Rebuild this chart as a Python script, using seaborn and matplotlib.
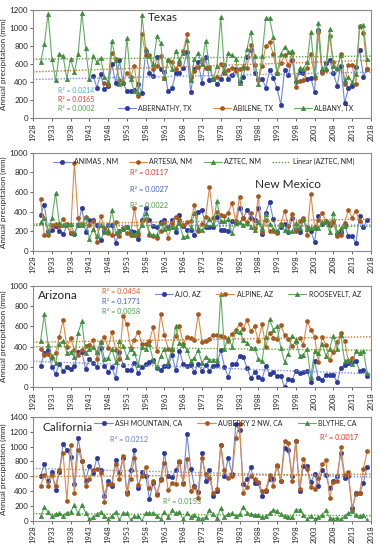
import numpy as np
import matplotlib
matplotlib.use("Agg")
import matplotlib.pyplot as plt
import seaborn as sns

# Annual precipitation (mm)
# Texas
abernathy_tx_from = 1944
abernathy_tx = [470, 340, 490, 320, 360, 600,
                390, 640, 390, 300, 300, 310, 380, 280, 750, 500,
                470, 680, 540, 510, 300, 330, 500, 500, 560, 730,
                290, 540, 620, 390, 680, 420, 440, 380, 440, 590,
                440, 480, 540, 400, 460, 680, 760, 500, 430, 440,
                340, 530, 450, 330, 150, 530, 480, 650, 400, 510,
                500, 440, 450, 290, 980, 520, 610, 650, 500, 360,
                580, 170, 330, 360, 570, 760, 460, 550]
abilene_tx_from = 1947
abilene_tx = [390, 370, 720,
              660, 420, 390, 500, 460, 580, 250, 930, 700, 700,
              540, 580, 690, 450, 650, 620, 550, 600, 740, 930,
              460, 520, 570, 640, 560, 570, 440, 460, 600, 500,
              530, 560, 520, 540, 560, 560, 810, 590, 420, 580,
              800, 840, 710, 500, 610, 700, 590, 720, 350, 410,
              420, 560, 710, 450, 950, 500, 530, 910, 620, 540,
              710, 380, 590, 590, 380, 1020, 940, 540]
albany_tx_from = 1930
albany_tx = [620, 820, 1160, 660, 420, 710, 690, 440, 660, 510,
             710, 1170, 780, 430, 690, 620, 670, 460, 400, 860,
             650, 380, 400, 890, 430, 300, 280, 1140, 770, 690,
             600, 910, 830, 450, 640, 550, 750, 650, 720, 870,
             420, 660, 720, 600, 860, 560, 430, 580, 1120, 520,
             720, 700, 660, 390, 580, 770, 960, 690, 380, 690,
             1110, 1110, 900, 500, 710, 790, 730, 750, 420, 560,
             550, 620, 960, 480, 1060, 550, 560, 990, 580, 560,
             700, 420, 460, 400, 490, 1020, 1030, 660]

# New Mexico
animas_nm_from = 1930
animas_nm = [370, 470, 200, 210, 250, 200, 170, 260, 180, 170,
             260, 440, 190, 310, 310, 260, 110, 200, 260, 260,
             80, 200, 220, 240, 200, 190, 120, 310, 440, 310,
             250, 240, 290, 310, 240, 310, 190, 370, 250, 210,
             210, 160, 400, 420, 240, 240, 240, 350, 210, 210,
             200, 300, 280, 440, 330, 420, 330, 310, 440, 170,
             390, 500, 320, 190, 240, 270, 190, 330, 220, 190,
             310, 240, 200, 90, 360, 270, 290, 260, 300, 170,
             190, 260, 150, 150, 80, 360, 240, 310]
artesia_nm_from = 1930
artesia_nm = [530, 160, 160, 260, 270, 250, 320, 270, 180, 900,
              330, 270, 350, 260, 300, 90, 360, 230, 180, 160,
              290, 150, 230, 180, 160, 440, 160, 300, 320, 160,
              150, 130, 200, 290, 130, 280, 350, 310, 260, 290,
              300, 470, 200, 270, 350, 650, 340, 400, 370, 360,
              390, 490, 300, 550, 330, 290, 390, 230, 560, 190,
              310, 200, 200, 180, 270, 410, 250, 380, 200, 300,
              340, 160, 580, 240, 310, 390, 300, 280, 290, 150,
              160, 280, 420, 340, 410, 300]
aztec_nm_from = 1930
aztec_nm = [290, 330, 190, 330, 590, 280, 260, 270, 270, 180,
            270, 260, 350, 120, 220, 150, 260, 190, 210, 420,
            180, 200, 230, 240, 190, 160, 200, 260, 390, 180,
            160, 160, 280, 220, 230, 240, 240, 280, 140, 150,
            240, 390, 230, 210, 260, 320, 270, 510, 300, 300,
            320, 180, 290, 290, 260, 280, 240, 210, 290, 230,
            380, 270, 220, 200, 260, 210, 200, 200, 280, 230,
            320, 220, 230, 230, 230, 290, 300, 190, 390, 190,
            230, 250]

# Arizona
ajo_az_from = 1930
ajo_az = [210, 340, 370, 200, 130, 230, 160, 200, 180, 210,
          350, 350, 180, 280, 240, 200, 390, 210, 150, 200,
          90, 350, 220, 170, 170, 240, 140, 200, 230, 250,
          270, 190, 170, 210, 210, 320, 170, 360, 230, 210,
          220, 150, 230, 160, 220, 160, 210, 220, 370, 200,
          100, 230, 230, 310, 300, 190, 90, 150, 100, 80,
          210, 130, 150, 110, 110, 0, 80, 70, 160, 140,
          150, 160, 50, 260, 90, 70, 120, 120, 120, 50,
          190, 220, 240, 250, 260, 160, 170, 110]
alpine_az_from = 1930
alpine_az = [380, 320, 330, 290, 340, 500, 660, 400, 490, 370,
             320, 370, 410, 420, 470, 280, 450, 500, 390, 550,
             370, 280, 700, 620, 390, 470, 550, 430, 430, 460,
             590, 360, 720, 520, 380, 370, 510, 600, 430, 500,
             490, 470, 720, 450, 460, 480, 520, 520, 510, 500,
             460, 530, 570, 620, 580, 660, 560, 600, 460, 620,
             400, 540, 490, 480, 610, 520, 480, 410, 450, 490,
             420, 650, 570, 500, 250, 500, 420, 270, 350, 450,
             540, 460, 260, 290]
roosevelt_az_from = 1930
roosevelt_az = [460, 720, 420, 310, 240, 430, 460, 340, 350, 300,
                540, 650, 340, 380, 400, 350, 450, 280, 290, 380,
                250, 460, 410, 300, 380, 340, 220, 400, 380, 430,
                260, 200, 310, 380, 250, 380, 600, 440, 420, 370,
                260, 290, 370, 240, 300, 270, 270, 270, 920, 380,
                490, 400, 560, 550, 470, 440, 390, 390, 280, 260,
                500, 670, 570, 600, 390, 250, 330, 510, 470, 310,
                320, 380, 100, 360, 340, 430, 310, 380, 510, 380,
                520, 260, 270, 230, 360, 340, 360, 140]

# California
ash_mountain_ca_from = 1930
ash_mountain_ca = [600, 770, 540, 660, 420, 660, 1040, 950, 860, 500,
                   1120, 810, 540, 740, 640, 850, 690, 340, 530, 470,
                   820, 650, 850, 390, 690, 950, 440, 660, 610, 290,
                   510, 360, 560, 910, 610, 590, 680, 790, 510, 1170,
                   700, 470, 390, 910, 540, 680, 340, 400, 1020, 610,
                   850, 630, 1300, 1220, 490, 570, 720, 510, 510, 340,
                   400, 560, 560, 740, 530, 980, 960, 600, 1070, 400,
                   740, 740, 520, 630, 470, 680, 620, 440, 530, 600,
                   910, 580, 610, 170, 370, 370, 510, 730]
auberry_ca_from = 1930
auberry_ca = [470, 620, 470, 620, 470, 680, 910, 270, 1020, 380,
              960, 810, 470, 570, 690, 700, 650, 260, 500, 500,
              760, 560, 870, 360, 570, 840, 480, 600, 720, 440,
              530, 350, 550, 780, 410, 510, 500, 800, 500, 830,
              400, 460, 310, 840, 630, 580, 370, 430, 1020, 680,
              580, 600, 1120, 1300, 380, 460, 600, 560, 520, 400,
              420, 620, 470, 750, 530, 1080, 1050, 530, 1080, 430,
              830, 700, 450, 430, 580, 760, 820, 310, 520, 540,
              990, 620, 660, 150, 360, 370, 700, 940]
blythe_ca_from = 1930
blythe_ca = [60, 180, 120, 60, 90, 100, 70, 110, 120, 210,
             100, 220, 110, 20, 50, 90, 120, 60, 30, 70,
             120, 10, 110, 100, 10, 60, 60, 0, 110, 100,
             110, 60, 30, 120, 50, 140, 100, 120, 20, 100,
             50, 80, 40, 30, 50, 140, 90, 40, 170, 50,
             90, 100, 60, 90, 190, 110, 90, 80, 80, 50,
             60, 100, 150, 130, 90, 60, 50, 50, 150, 150,
             80, 20, 70, 20, 50, 80, 140, 40, 30, 40,
             20, 70, 100, 130, 80, 70, 80, 10]

tx_r2 = ["R² = 0.0214", "R² = 0.0165", "R² = 0.0002"]
nm_r2 = ["R² = 0.0117", "R² = 0.0027", "R² = 0.0022"]
az_r2 = ["R² = 0.0454", "R² = 0.1771", "R² = 0.0058"]
ca_r2 = ["R² = 0.0212", "R² = 0.0017", "R² = 0.0153"]

# series styles: line colour, marker, marker colour, trend colour
styles = [
    dict(color="#7088d8", marker="o", mfc="#2b3a9c", ms=3.2, trend="#7c8fd4"),
    dict(color="#e08a48", marker="h", mfc="#a8561c", ms=3.2, trend="#c8782a"),
    dict(color="#62ad62", marker="^", mfc="#3d8c3d", ms=3.2, trend="#5f9a3c"),
]

sns.set_style("white")
plt.rcParams["font.family"] = ["Lato", "DejaVu Sans"]

fig = plt.figure(figsize=(3.8, 5.5), dpi=100)
boxes = [(0.982, 0.785), (0.722, 0.544), (0.480, 0.296), (0.242, 0.053)]
axes = [fig.add_axes([0.087, b, 0.889, t - b]) for t, b in boxes]


def draw_series(ax, start, vals, st, label, trend_label=None):
    yrs = np.arange(start, start + len(vals))
    sns.lineplot(x=yrs, y=vals, ax=ax, color=st["color"], lw=0.8,
                 marker=st["marker"], markersize=st["ms"],
                 markerfacecolor=st["mfc"], markeredgecolor=st["mfc"],
                 markeredgewidth=0.4, label=label)
    sns.regplot(x=yrs, y=np.array(vals, dtype=float), ax=ax, scatter=False,
                ci=None, truncate=False, label=trend_label,
                line_kws=dict(color=st["trend"], ls=(0, (1, 1.2)), lw=1.0))


def finish(ax, ymax):
    ax.set_xlim(1928, 2018)
    ax.set_ylim(0, ymax)
    ax.set_xticks(np.arange(1928, 2019, 5))
    ax.set_xticklabels([str(y) for y in range(1928, 2019, 5)], rotation=90, fontsize=5.5)
    ax.set_yticks(np.arange(0, ymax + 1, 200))
    ax.tick_params(axis="y", labelsize=5.8, length=2, width=0.5, pad=1.5, left=True)
    ax.tick_params(axis="x", length=2, width=0.5, pad=1.5, bottom=True)
    ax.set_ylabel("Annual precipitation (mm)", fontsize=5.8, labelpad=2)
    ax.set_xlabel("")
    for sp in ax.spines.values():
        sp.set_color("#8a8a8a")
        sp.set_linewidth(0.8)


def add_legend(ax, anchor, ncol, spacing):
    h, l = ax.get_legend_handles_labels()
    ax.legend(h, l, loc="center", bbox_to_anchor=anchor, ncol=ncol, frameon=False,
              fontsize=5.0, handlelength=2.6, columnspacing=spacing,
              handletextpad=0.35, borderpad=0.1, borderaxespad=0)


def r2_texts(ax, labels, positions, colors, size=5.3):
    for lab, (x, y), c in zip(labels, positions, colors):
        ax.text(x, y, lab, transform=ax.transAxes, fontsize=size, color=c,
                ha="left", va="center")


# ---- Texas
ax = axes[0]
ax.set_xlim(1928, 2018)
draw_series(ax, abernathy_tx_from, abernathy_tx, styles[0], "ABERNATHY, TX")
draw_series(ax, abilene_tx_from, abilene_tx, styles[1], "ABILENE, TX")
draw_series(ax, albany_tx_from, albany_tx, styles[2], "ALBANY, TX")
finish(ax, 1200)
add_legend(ax, (0.6, 0.093), 3, 3.0)
ax.text(0.385, 0.93, "Texas", transform=ax.transAxes, fontsize=8.5, ha="center", va="center")
r2_texts(ax, tx_r2, [(0.074, 0.26), (0.074, 0.175), (0.074, 0.09)],
         ["#4ab0d8", "#e03a2a", "#4aa048"], size=5.0)

# ---- New Mexico
ax = axes[1]
ax.set_xlim(1928, 2018)
draw_series(ax, animas_nm_from, animas_nm, styles[0], "ANIMAS , NM")
draw_series(ax, artesia_nm_from, artesia_nm, styles[1], "ARTESIA, NM")
draw_series(ax, aztec_nm_from, aztec_nm, styles[2], "AZTEC, NM", "Linear (AZTEC, NM)")
finish(ax, 1000)
add_legend(ax, (0.505, 0.91), 4, 1.6)
ax.text(0.755, 0.68, "New Mexico", transform=ax.transAxes, fontsize=8.5, ha="center", va="center")
r2_texts(ax, nm_r2, [(0.287, 0.80), (0.287, 0.63), (0.287, 0.46)],
         ["#e03a2a", "#4a62c0", "#4aa048"])

# ---- Arizona
ax = axes[2]
ax.set_xlim(1928, 2018)
draw_series(ax, ajo_az_from, ajo_az, styles[0], "AJO, AZ")
draw_series(ax, alpine_az_from, alpine_az, styles[1], "ALPINE, AZ")
draw_series(ax, roosevelt_az_from, roosevelt_az, styles[2], "ROOSEVELT, AZ")
finish(ax, 1000)
add_legend(ax, (0.665, 0.92), 3, 2.2)
ax.text(0.015, 0.91, "Arizona", transform=ax.transAxes, fontsize=8.5, ha="left", va="center")
r2_texts(ax, az_r2, [(0.204, 0.95), (0.204, 0.85), (0.204, 0.75)],
         ["#e0602a", "#4a62c0", "#4aa048"])

# ---- California
ax = axes[3]
ax.set_xlim(1928, 2018)
draw_series(ax, ash_mountain_ca_from, ash_mountain_ca, styles[0], "ASH MOUNTAIN, CA")
draw_series(ax, auberry_ca_from, auberry_ca, styles[1], "AUBERRY 2 NW, CA")
draw_series(ax, blythe_ca_from, blythe_ca, styles[2], "BLYTHE, CA")
finish(ax, 1400)
add_legend(ax, (0.57, 0.94), 3, 2.2)
ax.text(0.027, 0.90, "California", transform=ax.transAxes, fontsize=8.5, ha="left", va="center")
r2_texts(ax, ca_r2, [(0.228, 0.785), (0.85, 0.805), (0.385, 0.186)],
         ["#6a7ad8", "#e03a2a", "#4aa048"])

fig.savefig("out.png", dpi=100)
